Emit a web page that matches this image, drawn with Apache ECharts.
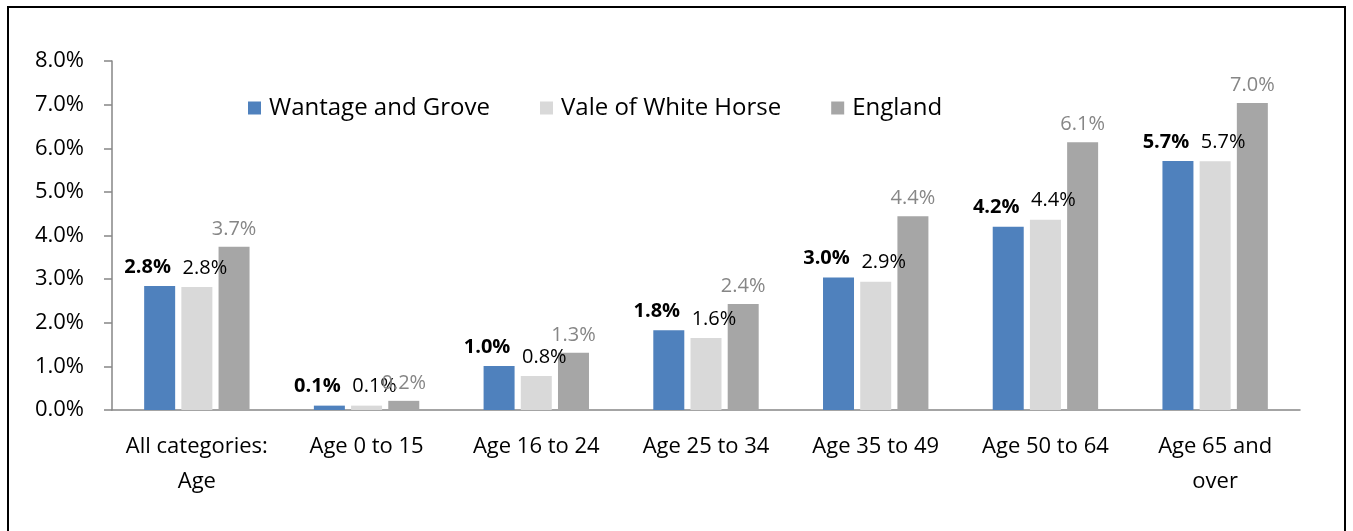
<!DOCTYPE html>
<html>
<head>
<meta charset="utf-8">
<script src="https://cdn.jsdelivr.net/npm/echarts@6/dist/echarts.min.js"></script>
<style>
  html, body { margin: 0; padding: 0; background: #fff; }
  #frame { position: absolute; left: 7px; top: 6px; width: 1339px; height: 540px; border: 2px solid #000; box-sizing: border-box; }
  #chart { position: absolute; left: 0; top: 0; width: 1353px; height: 531px; }
</style>
</head>
<body>
<div id="frame"></div>
<div id="chart"></div>
<script>
// data
const categories = ['All categories:\nAge', 'Age 0 to 15', 'Age 16 to 24', 'Age 25 to 34', 'Age 35 to 49', 'Age 50 to 64', 'Age 65 and\nover'];
const wantage = [2.84, 0.10, 1.01, 1.83, 3.04, 4.20, 5.71];
const vale = [2.82, 0.10, 0.78, 1.65, 2.94, 4.36, 5.70];
const england = [3.74, 0.21, 1.31, 2.43, 4.44, 6.14, 7.04];
const yTicks = [0, 1, 2, 3, 4, 5, 6, 7, 8];

const font = 'Open Sans';
const pct = p => p.value.toFixed(1) + '%';

let chart = echarts.init(document.getElementById('chart'));
let option = {
  animation: false,
  textStyle: { fontFamily: font },
  legend: {
    left: 243,
    top: 91,
    itemWidth: 13,
    itemHeight: 13,
    itemGap: 50,
    icon: 'rect',
    textStyle: { fontSize: 24, color: '#000', fontFamily: font, padding: [0, 0, 0, 3] },
    data: ['Wantage and Grove', 'Vale of White Horse', 'England']
  },
  grid: { left: 112, right: 53, top: 61, bottom: 121 },
  xAxis: {
    type: 'category',
    data: categories,
    axisLine: { lineStyle: { color: '#868686', width: 1.5 } },
    axisTick: { length: 9, lineStyle: { color: '#868686', width: 1.5 } },
    axisLabel: { color: '#000', fontSize: 22, lineHeight: 35, margin: 19, fontFamily: font, interval: 0 }
  },
  yAxis: {
    type: 'value',
    min: yTicks[0],
    max: yTicks[yTicks.length - 1],
    interval: 1,
    splitLine: { show: false },
    axisLine: { show: true, lineStyle: { color: '#868686', width: 1.5 } },
    axisTick: { show: true, length: 8, lineStyle: { color: '#868686', width: 1.5 } },
    axisLabel: { color: '#000', fontSize: 22, margin: 28, fontFamily: font, formatter: v => v.toFixed(1) + '%' }
  },
  series: [
    {
      name: 'Wantage and Grove', type: 'bar', data: wantage,
      barWidth: 31, barGap: '20%',
      itemStyle: { color: '#4F81BD' },
      label: { show: true, position: 'top', distance: 9, offset: [-12, 0], formatter: pct, color: '#000', fontWeight: 'bold', fontSize: 20, fontFamily: font }
    },
    {
      name: 'Vale of White Horse', type: 'bar', data: vale,
      barWidth: 31, barGap: '20%',
      itemStyle: { color: '#D9D9D9' },
      label: { show: true, position: 'top', distance: 9, offset: [8, 0], formatter: pct, color: '#000', fontSize: 20, fontFamily: font }
    },
    {
      name: 'England', type: 'bar', data: england,
      barWidth: 31, barGap: '20%',
      itemStyle: { color: '#A6A6A6' },
      label: { show: true, position: 'top', distance: 8, formatter: pct, color: '#868686', fontSize: 20, fontFamily: font }
    }
  ]
};
chart.setOption(option);
</script>
</body>
</html>
